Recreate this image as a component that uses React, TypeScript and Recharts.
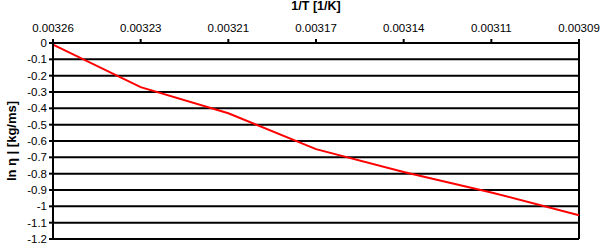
import React from "react"
import {
  LineChart,
  Line,
  XAxis,
  YAxis,
  CartesianGrid,
  ReferenceLine,
  Label,
} from "recharts"

// 1/T values (top axis categories)
const invTemps = ["0.00326", "0.00323", "0.00321", "0.00317", "0.00314", "0.00311", "0.00309"]
// ln(eta)
const lnEta = [-0.01, -0.27, -0.43, -0.65, -0.79, -0.915, -1.055]
const yTicks = [0, -0.1, -0.2, -0.3, -0.4, -0.5, -0.6, -0.7, -0.8, -0.9, -1, -1.1, -1.2]

const data = invTemps.map((t, i) => ({ t, v: lnEta[i] }))

const font = "'Liberation Sans', Arial, Helvetica, sans-serif"

export default function App() {
  return (
    <div style={{ position: "absolute", left: 0, top: 0, width: 601, height: 248, background: "#fff" }}>
      <LineChart
        width={601}
        height={248}
        data={data}
        margin={{ top: 0, right: 22, bottom: 9, left: 0 }}
        style={{ fontFamily: font }}
      >
        <CartesianGrid vertical={false} stroke="#000" strokeWidth={2} strokeDasharray="" />
        <XAxis
          dataKey="t"
          orientation="top"
          height={43}
          interval={0}
          tickSize={4}
          tickMargin={7}
          axisLine={{ stroke: "#000", strokeWidth: 2 }}
          tickLine={{ stroke: "#000", strokeWidth: 2 }}
          tick={{ fill: "#000", fontSize: 11.5 }}
        >
          <Label
            content={() => (
              <text
                x={316}
                y={10}
                textAnchor="middle"
                style={{ fontWeight: "bold", fontSize: 12.5, fill: "#000", fontFamily: font }}
              >
                1/T [1/K]
              </text>
            )}
          />
        </XAxis>
        <YAxis
          type="number"
          domain={[-1.2, 0]}
          ticks={yTicks}
          interval={0}
          width={53}
          tickSize={4}
          tickMargin={2}
          axisLine={{ stroke: "#000", strokeWidth: 2 }}
          tickLine={{ stroke: "#000", strokeWidth: 2 }}
          tick={{ fill: "#000", fontSize: 11.5 }}
        >
          <Label
            content={() => (
              <text
                x={11}
                y={141}
                transform="rotate(-90 11 141)"
                textAnchor="middle"
                dominantBaseline="central"
                style={{ fontWeight: "bold", fontSize: 13, fill: "#000", fontFamily: font }}
              >
                ln η | [kg/ms]
              </text>
            )}
          />
        </YAxis>
        <ReferenceLine x={invTemps[invTemps.length - 1]} stroke="#000" strokeWidth={2} />
        <Line
          type="linear"
          dataKey="v"
          stroke="#ff0000"
          strokeWidth={2}
          dot={false}
          isAnimationActive={false}
        />
      </LineChart>
    </div>
  )
}
